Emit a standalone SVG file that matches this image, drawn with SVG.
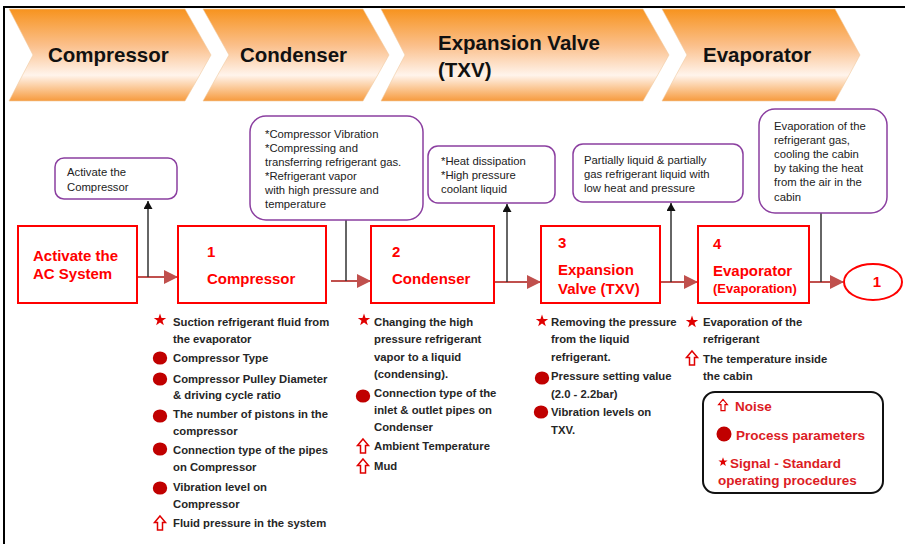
<svg xmlns="http://www.w3.org/2000/svg" width="905" height="544" viewBox="0 0 905 544">
<style>
.chev{stroke:#f0c9a0;stroke-width:0.6}
.chevt{font-family:"Liberation Sans",Arial,sans-serif;font-weight:bold;font-size:20.5px;fill:#111}
.call{fill:#fff;stroke:#8b3fa0;stroke-width:1.5}
.ct{font-family:"Liberation Sans",Arial,sans-serif;font-size:11.3px;fill:#222}
.rb{fill:#fff;stroke:#ff0000;stroke-width:2}
.rt{font-family:"Liberation Sans",Arial,sans-serif;font-weight:bold;font-size:15px;fill:#ff0000}
.bt{font-family:"Liberation Sans",Arial,sans-serif;font-weight:bold;font-size:11.3px;fill:#262626}
.lt{font-family:"Liberation Sans",Arial,sans-serif;font-weight:bold;font-size:13.5px;fill:#dc1c24}
.hl{stroke:#c0504d;stroke-width:2;fill:none}
.vl{stroke:#333;stroke-width:1.5;fill:none}
</style>
<defs>
<linearGradient id="og" x1="0" y1="0" x2="0" y2="1">
<stop offset="0" stop-color="#f7931e"/>
<stop offset="0.4" stop-color="#fbc08c"/>
<stop offset="0.72" stop-color="#fff4ec"/>
<stop offset="1" stop-color="#f79b3e"/>
</linearGradient>
<marker id="ha" viewBox="0 0 14 14" refX="13" refY="7" markerWidth="14" markerHeight="14" markerUnits="userSpaceOnUse" orient="auto">
<path d="M0,0 L14,7 L0,14 Z" fill="#c0504d"/>
</marker>
<marker id="va" viewBox="0 0 8 9" refX="8" refY="4.5" markerWidth="8" markerHeight="9" markerUnits="userSpaceOnUse" orient="auto">
<path d="M0,0 L8,4.5 L0,9 Z" fill="#111"/>
</marker>
<polygon id="star" points="0,-6.5 1.53,-2.1 6.18,-2 2.47,0.8 3.82,5.26 0,2.6 -3.82,5.26 -2.47,0.8 -6.18,-2 -1.53,-2.1" fill="#e00000"/>
<ellipse id="dot" rx="7.2" ry="6.6" fill="#c00000"/>
<path id="up" d="M0,-7 L5.5,-0.5 L2.5,-0.5 L2.5,7 L-2.5,7 L-2.5,-0.5 L-5.5,-0.5 Z" fill="#fff" stroke="#e00000" stroke-width="1.5" stroke-linejoin="miter"/>
</defs>
<rect width="905" height="544" fill="#fff"/>
<path d="M4,544 L4,7 L905,7" fill="none" stroke="#000" stroke-width="2"/>

<g id="banner">
<polygon class="chev" fill="url(#og)" points="9,9 185,9 211,55 185,101 9,101 33,55"/>
<polygon class="chev" fill="url(#og)" points="203,9 363,9 389,55 363,101 203,101 229,55"/>
<polygon class="chev" fill="url(#og)" points="381,9 643,9 669,55 643,101 381,101 405,55"/>
<polygon class="chev" fill="url(#og)" points="662,9 835,9 860,55 835,101 662,101 687,55"/>
<text class="chevt" x="48" y="62">Compressor</text>
<text class="chevt" x="240" y="62">Condenser</text>
<text class="chevt" x="438" y="50">Expansion Valve</text>
<text class="chevt" x="438" y="77">(TXV)</text>
<text class="chevt" x="703" y="62">Evaporator</text>
</g>

<g id="connectors">
<line class="hl" x1="137" y1="277" x2="177" y2="277" marker-end="url(#ha)"/>
<line class="hl" x1="331" y1="281" x2="370" y2="281" marker-end="url(#ha)"/>
<line class="hl" x1="495" y1="282" x2="540" y2="282" marker-end="url(#ha)"/>
<line class="hl" x1="661" y1="282" x2="697" y2="282" marker-end="url(#ha)"/>
<line class="hl" x1="810" y1="282" x2="843" y2="282" marker-end="url(#ha)"/>
<line class="vl" x1="148" y1="277" x2="148" y2="201" marker-end="url(#va)"/>
<line class="vl" x1="346" y1="281" x2="346" y2="205" marker-end="url(#va)"/>
<line class="vl" x1="507" y1="282" x2="507" y2="204" marker-end="url(#va)"/>
<line class="vl" x1="671" y1="282" x2="671" y2="203" marker-end="url(#va)"/>
<line class="vl" x1="821" y1="282" x2="821" y2="205" marker-end="url(#va)"/>
</g>

<g id="callout-activate">
<rect class="call" x="55" y="158" width="122" height="41" rx="9"/>
<text class="ct" x="67" y="176">Activate the</text>
<text class="ct" x="67" y="191">Compressor</text>
</g>
<g id="callout-compressor">
<rect class="call" x="250" y="116" width="173" height="104" rx="16"/>
<text class="ct" x="265" y="138">*Compressor Vibration</text>
<text class="ct" x="265" y="152">*Compressing and</text>
<text class="ct" x="265" y="166">transferring refrigerant gas.</text>
<text class="ct" x="265" y="180">*Refrigerant vapor</text>
<text class="ct" x="265" y="194">with high pressure and</text>
<text class="ct" x="265" y="208">temperature</text>
</g>
<g id="callout-condenser">
<rect class="call" x="428" y="146" width="127" height="57" rx="10"/>
<text class="ct" x="441" y="165">*Heat dissipation</text>
<text class="ct" x="441" y="179">*High pressure</text>
<text class="ct" x="441" y="193">coolant liquid</text>
</g>
<g id="callout-txv">
<rect class="call" x="573" y="144" width="170" height="58" rx="10"/>
<text class="ct" x="584" y="164">Partially liquid &amp; partially</text>
<text class="ct" x="584" y="178">gas refrigerant liquid with</text>
<text class="ct" x="584" y="192">low heat and pressure</text>
</g>
<g id="callout-evaporator">
<rect class="call" x="759" y="109" width="128" height="104" rx="16"/>
<text class="ct" x="774" y="130">Evaporation of the</text>
<text class="ct" x="774" y="144">refrigerant gas,</text>
<text class="ct" x="774" y="158">cooling the cabin</text>
<text class="ct" x="774" y="172">by taking the heat</text>
<text class="ct" x="774" y="186">from the air in the</text>
<text class="ct" x="774" y="201">cabin</text>
</g>

<g id="node-activate">
<rect class="rb" x="18" y="226" width="119" height="77"/>
<text class="rt" x="33" y="261">Activate the</text>
<text class="rt" x="33" y="279">AC System</text>
</g>
<g id="node-compressor">
<rect class="rb" x="178" y="226" width="148" height="77"/>
<text class="rt" x="207" y="257">1</text>
<text class="rt" x="207" y="284">Compressor</text>
</g>
<g id="node-condenser">
<rect class="rb" x="371" y="226" width="123" height="77"/>
<text class="rt" x="392" y="257">2</text>
<text class="rt" x="392" y="284">Condenser</text>
</g>
<g id="node-txv">
<rect class="rb" x="541" y="226" width="119" height="77"/>
<text class="rt" x="558" y="248">3</text>
<text class="rt" x="558" y="275">Expansion</text>
<text class="rt" x="558" y="294">Valve (TXV)</text>
</g>
<g id="node-evaporator">
<rect class="rb" x="698" y="226" width="111" height="77"/>
<text class="rt" x="713" y="249">4</text>
<text class="rt" x="713" y="276">Evaporator</text>
<text class="rt" x="713" y="293" style="font-size:13px">(Evaporation)</text>
</g>
<g id="node-loop">
<ellipse cx="873" cy="282" rx="29" ry="18" fill="#fff" stroke="#ff0000" stroke-width="2"/>
<text class="rt" x="877" y="287" text-anchor="middle">1</text>
</g>

<g id="list-compressor">
<use href="#star" x="160" y="320"/>
<text class="bt" x="173" y="326">Suction refrigerant fluid from</text>
<text class="bt" x="173" y="343">the evaporator</text>
<use href="#dot" x="160" y="358"/>
<text class="bt" x="173" y="362">Compressor Type</text>
<use href="#dot" x="160" y="379"/>
<text class="bt" x="173" y="383">Compressor Pulley Diameter</text>
<text class="bt" x="173" y="399">&amp; driving cycle ratio</text>
<use href="#dot" x="160" y="416"/>
<text class="bt" x="173" y="418">The number of pistons in the</text>
<text class="bt" x="173" y="435">compressor</text>
<use href="#dot" x="160" y="449"/>
<text class="bt" x="173" y="454">Connection type of the pipes</text>
<text class="bt" x="173" y="471">on Compressor</text>
<use href="#dot" x="160" y="488"/>
<text class="bt" x="173" y="491">Vibration level on</text>
<text class="bt" x="173" y="508">Compressor</text>
<use href="#up" x="160" y="523"/>
<text class="bt" x="173" y="527">Fluid pressure in the system</text>
</g>

<g id="list-condenser">
<use href="#star" x="364" y="320"/>
<text class="bt" x="374" y="326">Changing the high</text>
<text class="bt" x="374" y="343">pressure refrigerant</text>
<text class="bt" x="374" y="361">vapor to a liquid</text>
<text class="bt" x="374" y="378">(condensing).</text>
<use href="#dot" x="363" y="396"/>
<text class="bt" x="374" y="397">Connection type of the</text>
<text class="bt" x="374" y="414">inlet &amp; outlet pipes on</text>
<text class="bt" x="374" y="431">Condenser</text>
<use href="#up" x="363" y="446"/>
<text class="bt" x="374" y="450">Ambient Temperature</text>
<use href="#up" x="363" y="466"/>
<text class="bt" x="374" y="470">Mud</text>
</g>

<g id="list-txv">
<use href="#star" x="542" y="321"/>
<text class="bt" x="551" y="326">Removing the pressure</text>
<text class="bt" x="551" y="343">from the liquid</text>
<text class="bt" x="551" y="361">refrigerant.</text>
<use href="#dot" x="542" y="378"/>
<text class="bt" x="551" y="380">Pressure setting value</text>
<text class="bt" x="551" y="398">(2.0 - 2.2bar)</text>
<use href="#dot" x="541" y="412"/>
<text class="bt" x="551" y="416">Vibration levels on</text>
<text class="bt" x="551" y="434">TXV.</text>
</g>

<g id="list-evaporator">
<use href="#star" x="692" y="322"/>
<text class="bt" x="703" y="326">Evaporation of the</text>
<text class="bt" x="703" y="343">refrigerant</text>
<use href="#up" x="692" y="358"/>
<text class="bt" x="703" y="363">The temperature inside</text>
<text class="bt" x="703" y="380">the cabin</text>
</g>

<g id="legend">
<rect x="703" y="392" width="180" height="101" rx="12" fill="#fff" stroke="#111" stroke-width="2"/>
<g transform="translate(723,405) scale(0.8)"><use href="#up"/></g>
<text class="lt" x="735" y="411">Noise</text>
<ellipse cx="724" cy="434" rx="7.5" ry="7.5" fill="#c00000"/>
<text class="lt" x="736" y="440">Process parameters</text>
<g transform="translate(723,462) scale(0.75)"><use href="#star"/></g>
<text class="lt" x="730" y="468">Signal - Standard</text>
<text class="lt" x="718" y="485">operating procedures</text>
</g>
</svg>
